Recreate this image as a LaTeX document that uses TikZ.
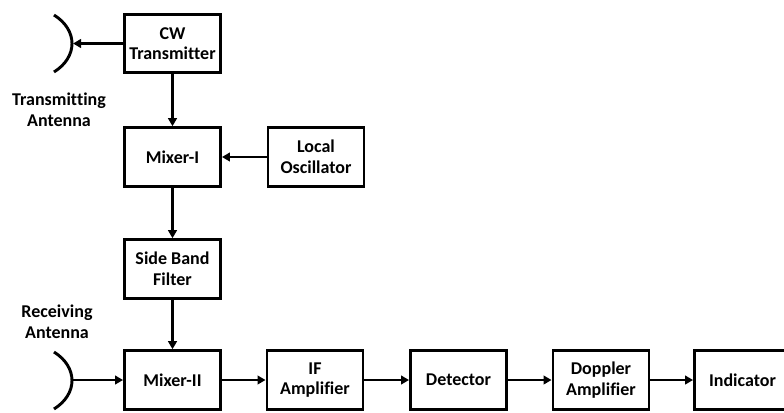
\documentclass[tikz,border=0pt]{standalone}
\usepackage{fontspec}
\setmainfont{Carlito}[Ligatures=NoCommon]
\usetikzlibrary{arrows.meta}
\tikzset{
  block/.style={draw, line width=2.2pt, minimum width=72pt, minimum height=44pt,
    align=center, inner sep=1pt, font=\bfseries\fontsize{13.5}{15.5}\selectfont},
  lbl/.style={align=center, font=\bfseries\fontsize{13.5}{15.5}\selectfont},
  sig/.style={line width=2.2pt, -{Triangle[length=6pt,width=6.5pt]}},
}
\begin{document}
\begin{tikzpicture}[x=0.75pt, y=-0.75pt]
        \clip (0,0) rectangle (784,412);
        \useasboundingbox (0,0) rectangle (784,412);
        \node[block] (cw) at (172.5,43.5) {CW\\Transmitter};
        \node[block] (mix1) at (172.5,157) {Mixer-I};
        \node[block] (lo) at (316,157) {Local\\Oscillator};
        \node[block] (sbf) at (172.5,269) {Side Band\\Filter};
        \node[block] (mix2) at (172.5,380) {Mixer-II};
        \node[block] (ifa) at (315,380) {IF\\Amplifier};
        \node[block] (det) at (458.5,380) {Detector};
        \node[block] (dop) at (601,380) {Doppler\\Amplifier};
        \node[block] (ind) at (742.5,380) {Indicator};
        % antennas
        \coordinate (tx) at (73,43.5); \coordinate (rx) at (73,380);
        \draw[line width=2.2pt] (54,15) .. controls (78,30) and (78,57) .. (54,72);
        \draw[line width=2.2pt] (54,352) .. controls (78,367) and (78,394) .. (54,409);
        \node[lbl] (txl) at (59,110) {Transmitting\\Antenna};
        \node[lbl] (rxl) at (57,322) {Receiving\\Antenna};
        % signal path
        \draw[sig] (cw) -- (tx);
        \draw[sig] (cw) -- (mix1);
        \draw[sig] (lo) -- (mix1);
        \draw[sig] (mix1) -- (sbf);
        \draw[sig] (sbf) -- (mix2);
        \draw[sig] (rx) -- (mix2);
        \foreach \a/\b in {mix2/ifa, ifa/det, det/dop, dop/ind} \draw[sig] (\a) -- (\b);
    \end{tikzpicture}
\end{document}
